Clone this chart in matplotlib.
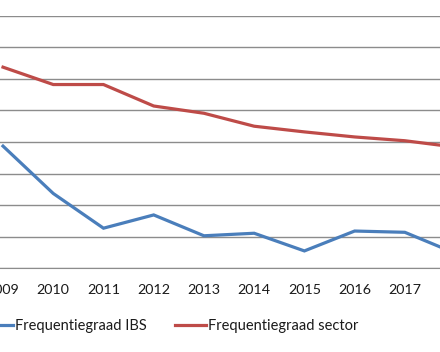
import matplotlib
matplotlib.use("Agg")
import matplotlib.pyplot as plt

years = [2009, 2010, 2011, 2012, 2013, 2014, 2015, 2016, 2017, 2018]
ibs = [3.87, 2.37, 1.27, 1.69, 1.03, 1.11, 0.55, 1.18, 1.14, 0.48]
sector = [6.37, 5.82, 5.82, 5.14, 4.91, 4.50, 4.32, 4.16, 4.04, 3.84]

plt.rcParams['font.family'] = ['Lato', 'DejaVu Sans']

fig = plt.figure(figsize=(4.4, 3.52), dpi=100)
ax = fig.add_axes([0, 0.2378, 1, 0.7176])

ax.plot(years, ibs, color='#4A7EBB', lw=2.3, label='Frequentiegraad IBS',
        solid_joinstyle='miter')
ax.plot(years, sector, color='#BE4B48', lw=2.3, label='Frequentiegraad sector',
        solid_joinstyle='miter')

ax.set_xticks(years)
ax.set_xticklabels([str(y) for y in years])
ax.set_yticks(range(0, 9))
# limits after the ticks, otherwise set_xticks widens them
ax.set_xlim(2008.94, 2017.70)
ax.set_ylim(0, 8)
ax.yaxis.grid(True, color='#8c8c8c', lw=1)
ax.set_axisbelow(True)
ax.tick_params(axis='y', left=False, labelleft=False)
ax.tick_params(axis='x', length=0, pad=11, labelsize=10.3, labelcolor='#1a1a1a')
for s in ['top', 'left', 'right']:
    ax.spines[s].set_visible(False)
ax.spines['bottom'].set_color('#8c8c8c')

fig.legend(loc='center', bbox_to_anchor=(170 / 440, 1 - 325.7 / 352), ncol=2,
           frameon=False, fontsize=10.55, handlelength=2.15, columnspacing=1.9,
           handletextpad=0.15, labelcolor='#1a1a1a')

fig.savefig('out.png', dpi=100)
